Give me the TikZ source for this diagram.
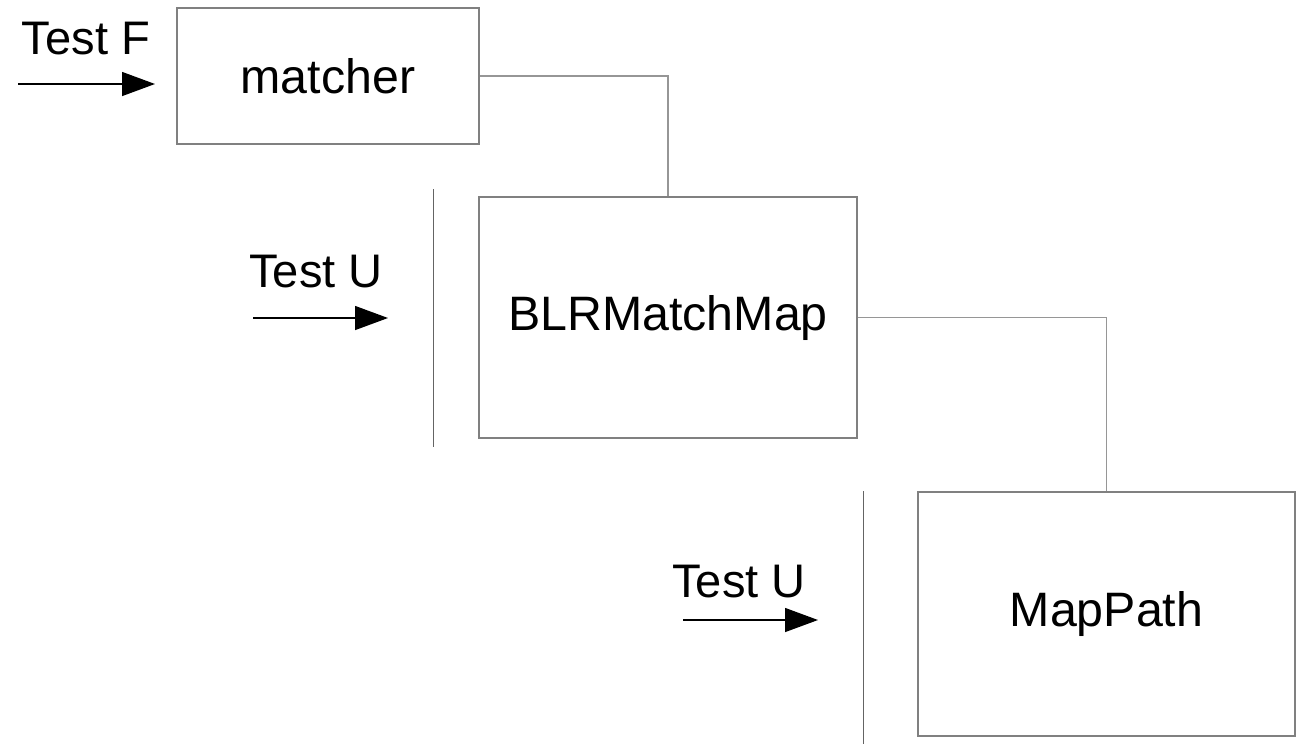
\documentclass[tikz,border=0pt]{standalone}
\usepackage{fontspec}
\setmainfont{Liberation Sans}
\usepackage{tikz}
\usetikzlibrary{
  arrows.meta,
  positioning
}
\definecolor{framegray}{RGB}{128,128,128}
\definecolor{linkgray}{RGB}{150,150,150}
\definecolor{bargray}{RGB}{100,100,100}

\begin{document}
\begin{tikzpicture}[
  x=0.02cm, y=-0.02cm,
  box/.style ={draw=framegray,line width=0.7pt,inner sep=0pt,
               font=\fontsize{27.5}{32}\selectfont},
  lbl/.style ={anchor=base,inner sep=0pt,font=\fontsize{26.8}{31}\selectfont},
  arr/.style ={-{Triangle[length=0.66cm,width=0.48cm]},line width=0.8pt},
  link/.style={draw=linkgray,line width=0.7pt},
  bar/.style ={draw=bargray,line width=0.9pt},
]
\useasboundingbox (0,0) rectangle (1300,744);

% the three stages
\node[box,minimum width=6.04cm,minimum height=2.72cm] (matcher) at (328,76)    {matcher};
\node[box,minimum width=7.56cm,minimum height=4.82cm] (blr)     at (668,317.5) {BLRMatchMap};
\node[box,minimum width=7.54cm,minimum height=4.88cm] (mappath) at (1106.5,614){MapPath};

\draw[link] (matcher.east) -| (blr.north);
\draw[link] (blr.east) -| (mappath.north);

% barriers in front of the lower stages
\coordinate[left=0.9cm of blr.north west,yshift=0.14cm]    (bartopA);
\coordinate[left=0.9cm of blr.south west,yshift=-0.16cm]   (barbotA);
\coordinate[left=1.08cm of mappath.north west]             (bartopB);
\coordinate[left=1.08cm of mappath.south west,yshift=-0.14cm] (barbotB);
\draw[bar] (bartopA) -- (barbotA);
\draw[bar] (bartopB) -- (barbotB);

% incoming tests
\coordinate (inF)  at (18,84);   \coordinate (outF)  at (155,84);
\coordinate (inU)  at (253,318); \coordinate (outU)  at (388,318);
\coordinate (inV)  at (683,620); \coordinate (outV)  at (818,620);

\node[lbl] (testF) at (86,54)   {Test F};
\node[lbl] (testU) at (316,287) {Test U};
\node[lbl] (testV) at (739,597) {Test U};

\draw[arr] (inF) -- (outF);
\draw[arr] (inU) -- (outU);
\draw[arr] (inV) -- (outV);
\end{tikzpicture}
\end{document}
